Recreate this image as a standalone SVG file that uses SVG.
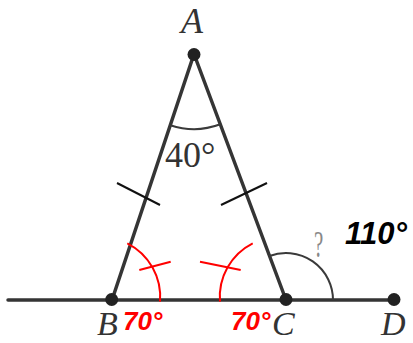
<svg xmlns="http://www.w3.org/2000/svg" width="413" height="343" viewBox="0 0 413 343">
<style>
.seg{stroke:#353535;stroke-width:3.5;stroke-linecap:round;fill:none}
.thin{stroke:#3a3a3a;stroke-width:2;fill:none}
.tick{stroke:#111;stroke-width:2;fill:none}
.red{stroke:#f00;stroke-width:2;fill:none}
.dot{fill:#222}
.lbl{font-family:"Liberation Serif","Times New Roman",serif;font-style:italic;font-size:36px;fill:#333}
.ang{font-family:"Liberation Serif","Times New Roman",serif;font-size:36px;fill:#333}
.val{font-family:"Liberation Sans",Arial,sans-serif;font-style:italic;font-weight:bold;font-size:26px}
</style>
<rect width="413" height="343" fill="#fff"/>
<g id="connectors">
<line class="seg" x1="8" y1="300" x2="394" y2="300"/>
<line class="seg" x1="194" y1="54" x2="112" y2="300"/>
<line class="seg" x1="194" y1="54" x2="286" y2="300"/>
<path class="thin" d="M170.3,125.2 A75,75 0 0 0 220.3,124.3"/>
<path class="thin" d="M269.5,256 A47,47 0 0 1 333,300"/>
<line class="tick" x1="117" y1="183" x2="160" y2="205"/>
<line class="tick" x1="267" y1="183" x2="221" y2="205"/>
<path class="red" d="M127.3,243.3 A60,60 0 0 1 160,301.7"/>
<path class="red" d="M252.7,243.3 A60,60 0 0 0 220,301.7"/>
<line class="red" x1="139.3" y1="270" x2="170.7" y2="261.7"/>
<line class="red" x1="200" y1="261.7" x2="240.7" y2="270"/>
</g>
<g id="A">
<circle class="dot" cx="194" cy="54.5" r="6.5"/>
<text class="lbl" x="192" y="33" text-anchor="middle">A</text>
</g>
<g id="B">
<circle class="dot" cx="111.7" cy="299.5" r="6.5"/>
<text class="lbl" x="97" y="335" style="font-size:34px">B</text>
</g>
<g id="C">
<circle class="dot" cx="286" cy="299.5" r="6.5"/>
<text class="lbl" x="272" y="335" style="font-size:34px">C</text>
</g>
<g id="D">
<circle class="dot" cx="394" cy="299.5" r="6.5"/>
<text class="lbl" x="381" y="335" style="font-size:34px">D</text>
</g>
<g id="labels">
<text class="ang" x="165" y="167">40°</text>
<text class="val" x="123" y="330" fill="#f00">70°</text>
<text class="val" x="231" y="330" fill="#f00">70°</text>
<text class="val" x="345" y="244" fill="#000" style="font-size:31px">110°</text>
<text x="314" y="257" fill="#888" style="font-family:'Liberation Serif',serif;font-size:38px" transform="translate(314 0) scale(0.55 1) translate(-314 0)">?</text>
</g>
</svg>
